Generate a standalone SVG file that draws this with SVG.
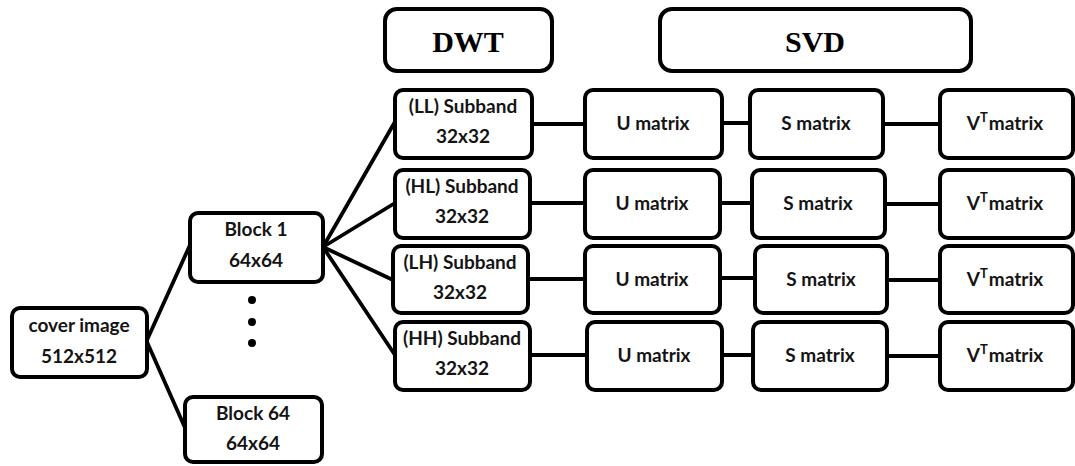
<svg xmlns="http://www.w3.org/2000/svg" width="1075" height="466" viewBox="0 0 1075 466">
<style>
  .box { fill: #ffffff; stroke: #000000; stroke-width: 4; }
  .t { font-family: Lato, "Liberation Sans", sans-serif; font-weight: 700; font-size: 19px; fill: #141414; text-anchor: middle; }
  .h { font-family: "Liberation Serif", serif; font-weight: 700; font-size: 30px; fill: #000000; text-anchor: middle; }
  .c line { stroke: #000000; stroke-width: 3.8; stroke-linecap: round; }
  .dot { fill: #000000; }
</style>
<rect width="1075" height="466" fill="#ffffff"/>
<g class="c" id="connectors">
  <line x1="147" y1="340" x2="190" y2="245"/>
  <line x1="147" y1="342" x2="186" y2="430"/>
  <line x1="323" y1="247" x2="396" y2="120"/>
  <line x1="323" y1="247" x2="395" y2="203"/>
  <line x1="323" y1="247" x2="393" y2="280"/>
  <line x1="323" y1="247" x2="395" y2="355"/>
  <line x1="532" y1="124" x2="585" y2="124"/>
  <line x1="722" y1="123" x2="750" y2="123"/>
  <line x1="883" y1="124" x2="940" y2="124"/>
  <line x1="530" y1="203" x2="585" y2="203"/>
  <line x1="720" y1="203" x2="752" y2="203"/>
  <line x1="885" y1="204" x2="940" y2="204"/>
  <line x1="528" y1="279" x2="585" y2="279"/>
  <line x1="720" y1="278" x2="755" y2="278"/>
  <line x1="887" y1="280" x2="940" y2="280"/>
  <line x1="530" y1="355" x2="587" y2="355"/>
  <line x1="722" y1="355" x2="753" y2="355"/>
  <line x1="887" y1="356" x2="940" y2="356"/>
</g>
<g id="dwt"><rect class="box" x="385" y="9" width="167" height="62" rx="12"/><text class="h" x="468" y="52">DWT</text></g>
<g id="svd"><rect class="box" x="660" y="9" width="311" height="62" rx="12"/><text class="h" x="815" y="52">SVD</text></g>
<g id="cover"><rect class="box" x="12" y="308" width="135" height="69" rx="8"/><text class="t" x="79" y="332">cover image</text><text class="t" x="79" y="363">512x512</text></g>
<g id="block1"><rect class="box" x="190" y="213" width="133" height="69" rx="8"/><text class="t" x="256" y="236">Block 1</text><text class="t" x="256" y="267">64x64</text></g>
<g id="dots"><circle class="dot" cx="252" cy="300" r="4"/><circle class="dot" cx="252" cy="322" r="4"/><circle class="dot" cx="252" cy="343" r="4"/></g>
<g id="block64"><rect class="box" x="185" y="397" width="137" height="65" rx="8"/><text class="t" x="253" y="420">Block 64</text><text class="t" x="253" y="450">64x64</text></g>
<g id="ll"><rect class="box" x="395" y="90" width="137" height="68" rx="8"/><text class="t" x="463" y="113">(LL) Subband</text><text class="t" x="463" y="143">32x32</text></g>
<g id="hl"><rect class="box" x="395" y="170" width="135" height="68" rx="8"/><text class="t" x="462" y="193">(HL) Subband</text><text class="t" x="462" y="223">32x32</text></g>
<g id="lh"><rect class="box" x="393" y="246" width="135" height="67" rx="8"/><text class="t" x="460" y="269">(LH) Subband</text><text class="t" x="460" y="299">32x32</text></g>
<g id="hh"><rect class="box" x="395" y="322" width="135" height="68" rx="8"/><text class="t" x="462" y="345">(HH) Subband</text><text class="t" x="462" y="375">32x32</text></g>
<g id="u1"><rect class="box" x="585" y="90" width="137" height="68" rx="8"/><text class="t" x="653" y="130">U matrix</text></g>
<g id="u2"><rect class="box" x="585" y="170" width="135" height="68" rx="8"/><text class="t" x="652" y="210">U matrix</text></g>
<g id="u3"><rect class="box" x="585" y="246" width="135" height="67" rx="8"/><text class="t" x="652" y="286">U matrix</text></g>
<g id="u4"><rect class="box" x="587" y="322" width="135" height="68" rx="8"/><text class="t" x="654" y="362">U matrix</text></g>
<g id="s1"><rect class="box" x="750" y="90" width="133" height="68" rx="8"/><text class="t" x="816" y="130">S matrix</text></g>
<g id="s2"><rect class="box" x="752" y="170" width="133" height="68" rx="8"/><text class="t" x="818" y="210">S matrix</text></g>
<g id="s3"><rect class="box" x="755" y="246" width="132" height="67" rx="8"/><text class="t" x="821" y="286">S matrix</text></g>
<g id="s4"><rect class="box" x="753" y="322" width="134" height="68" rx="8"/><text class="t" x="820" y="362">S matrix</text></g>
<g id="v1"><rect class="box" x="940" y="90" width="133" height="68" rx="8"/><text class="t" x="1005" y="130">V<tspan font-size="13" dy="-8">T</tspan><tspan dx="1" dy="8">matrix</tspan></text></g>
<g id="v2"><rect class="box" x="940" y="170" width="133" height="68" rx="8"/><text class="t" x="1005" y="210">V<tspan font-size="13" dy="-8">T</tspan><tspan dx="1" dy="8">matrix</tspan></text></g>
<g id="v3"><rect class="box" x="940" y="246" width="133" height="67" rx="8"/><text class="t" x="1005" y="286">V<tspan font-size="13" dy="-8">T</tspan><tspan dx="1" dy="8">matrix</tspan></text></g>
<g id="v4"><rect class="box" x="940" y="322" width="133" height="68" rx="8"/><text class="t" x="1005" y="362">V<tspan font-size="13" dy="-8">T</tspan><tspan dx="1" dy="8">matrix</tspan></text></g>
</svg>
